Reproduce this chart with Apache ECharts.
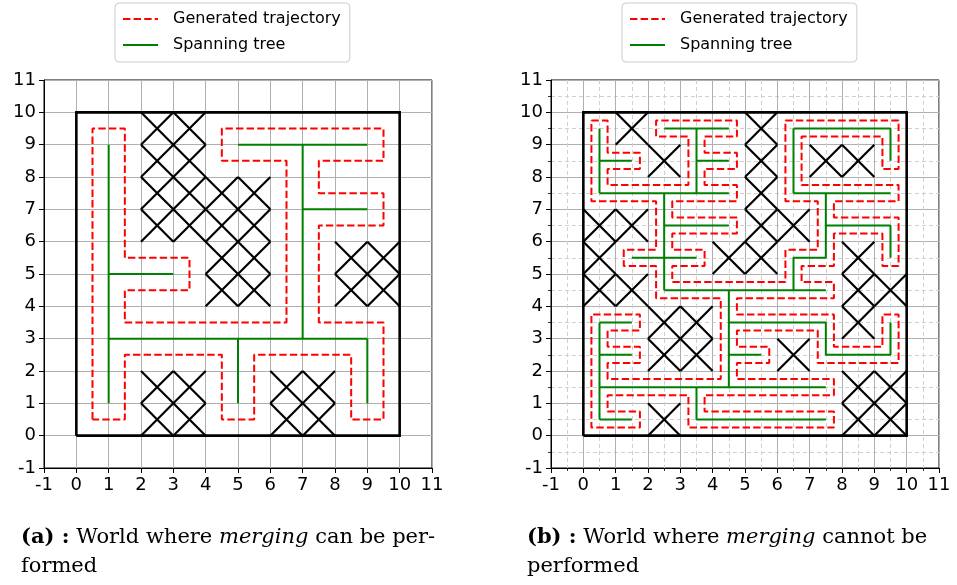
<!DOCTYPE html>
<html><head><meta charset="utf-8">
<script src="https://cdn.jsdelivr.net/npm/echarts@6/dist/echarts.min.js"></script>
<style>html,body{margin:0;padding:0;background:#fff}#c{width:957px;height:585px}</style>
</head><body><div id="c"></div>
<script>
// ---- data ----
const axisTicks = [-1,0,1,2,3,4,5,6,7,8,9,10,11];
const legendNames = ['Generated trajectory','Spanning tree'];
const boundary = [[0,0],[10,0],[10,10],[0,10],[0,0]];

// (a) world: 2x2 obstacle blocks [x, y, size]
const obstaclesA = [[2,8,2],[2,6,2],[4,6,2],[4,4,2],[8,4,2],[2,0,2],[6,0,2]];
const treeA = [
  [[1,1],[1,9]], [[1,5],[3,5]], [[1,3],[9,3]], [[5,3],[5,1]],
  [[9,3],[9,1]], [[7,3],[7,9]], [[7,7],[9,7]], [[5,9],[9,9]]
];
const trajectoryA = [
  [0.5,0.5],[0.5,9.5],[1.5,9.5],[1.5,5.5],[3.5,5.5],[3.5,4.5],[1.5,4.5],[1.5,3.5],
  [6.5,3.5],[6.5,8.5],[4.5,8.5],[4.5,9.5],[9.5,9.5],[9.5,8.5],[7.5,8.5],[7.5,7.5],
  [9.5,7.5],[9.5,6.5],[7.5,6.5],[7.5,3.5],[9.5,3.5],[9.5,0.5],[8.5,0.5],[8.5,2.5],
  [5.5,2.5],[5.5,0.5],[4.5,0.5],[4.5,2.5],[1.5,2.5],[1.5,0.5],[0.5,0.5]
];

// (b) world: 1x1 obstacle cells [x, y, size]
const obstaclesB = [
  [1,9,1],[5,9,1],
  [2,8,1],[5,8,1],[7,8,1],[8,8,1],
  [5,7,1],
  [0,6,1],[1,6,1],[5,6,1],[6,6,1],
  [0,5,1],[4,5,1],[5,5,1],[8,5,1],
  [0,4,1],[1,4,1],[8,4,1],[9,4,1],
  [2,3,1],[3,3,1],[8,3,1],
  [2,2,1],[3,2,1],[6,2,1],
  [8,1,1],[9,1,1],
  [2,0,1],[8,0,1],[9,0,1]
];
const treeB = [
  [[0.5,9.5],[0.5,7.5]],
  [[0.5,8.5],[1.5,8.5]],
  [[0.5,7.5],[4.5,7.5]],
  [[3.5,9.5],[3.5,7.5]],
  [[2.5,9.5],[4.5,9.5]],
  [[3.5,8.5],[4.5,8.5]],
  [[2.5,7.5],[2.5,4.5]],
  [[2.5,6.5],[4.5,6.5]],
  [[1.5,5.5],[3.5,5.5]],
  [[2.5,4.5],[7.5,4.5]],
  [[6.5,4.5],[6.5,5.5],[7.5,5.5],[7.5,7.5]],
  [[6.5,9.5],[6.5,7.5]],
  [[6.5,9.5],[9.5,9.5],[9.5,8.5]],
  [[6.5,7.5],[9.5,7.5]],
  [[7.5,6.5],[9.5,6.5],[9.5,5.5]],
  [[4.5,4.5],[4.5,1.5]],
  [[4.5,3.5],[7.5,3.5],[7.5,2.5],[9.5,2.5],[9.5,3.5]],
  [[4.5,2.5],[5.5,2.5]],
  [[0.5,1.5],[7.5,1.5]],
  [[0.5,3.5],[0.5,0.5]],
  [[0.5,3.5],[1.5,3.5]],
  [[0.5,2.5],[1.5,2.5]],
  [[0.5,0.5],[1.5,0.5]],
  [[3.5,1.5],[3.5,0.5],[7.5,0.5]]
];
const trajectoryB = [
  [0.25,9.75],[0.75,9.75],[0.75,8.75],[1.75,8.75],[1.75,8.25],[0.75,8.25],[0.75,7.75],
  [3.25,7.75],[3.25,9.25],[2.25,9.25],[2.25,9.75],[4.75,9.75],[4.75,9.25],[3.75,9.25],
  [3.75,8.75],[4.75,8.75],[4.75,8.25],[3.75,8.25],[3.75,7.75],[4.75,7.75],[4.75,7.25],
  [2.75,7.25],[2.75,6.75],[4.75,6.75],[4.75,6.25],[2.75,6.25],[2.75,5.75],[3.75,5.75],
  [3.75,5.25],[2.75,5.25],[2.75,4.75],[6.25,4.75],[6.25,5.75],[7.25,5.75],[7.25,7.25],
  [6.25,7.25],[6.25,9.75],[9.75,9.75],[9.75,8.25],[9.25,8.25],[9.25,9.25],[6.75,9.25],
  [6.75,7.75],[9.75,7.75],[9.75,7.25],[7.75,7.25],[7.75,6.75],[9.75,6.75],[9.75,5.25],
  [9.25,5.25],[9.25,6.25],[7.75,6.25],[7.75,5.25],[6.75,5.25],[6.75,4.75],[7.75,4.75],
  [7.75,4.25],[4.75,4.25],[4.75,3.75],[7.75,3.75],[7.75,2.75],[9.25,2.75],[9.25,3.75],
  [9.75,3.75],[9.75,2.25],[7.25,2.25],[7.25,3.25],[4.75,3.25],[4.75,2.75],[5.75,2.75],
  [5.75,2.25],[4.75,2.25],[4.75,1.75],[7.75,1.75],[7.75,1.25],[3.75,1.25],[3.75,0.75],
  [7.75,0.75],[7.75,0.25],[3.25,0.25],[3.25,1.25],[0.75,1.25],[0.75,0.75],[1.75,0.75],
  [1.75,0.25],[0.25,0.25],[0.25,3.75],[1.75,3.75],[1.75,3.25],[0.75,3.25],[0.75,2.75],
  [1.75,2.75],[1.75,2.25],[0.75,2.25],[0.75,1.75],[4.25,1.75],[4.25,4.25],[2.25,4.25],
  [2.25,5.25],[1.25,5.25],[1.25,5.75],[2.25,5.75],[2.25,7.25],[0.25,7.25],[0.25,9.75]
];

// ---- chart ----
const chart = echarts.init(document.getElementById('c'), null, {renderer:'canvas'});
const FONT = 'DejaVu Sans';

function makeAxis(gi, minor){
  const ax = {
    gridIndex: gi, type:'value', min: axisTicks[0], max: axisTicks[axisTicks.length-1], interval:1,
    axisLine:{show:true, onZero:false, lineStyle:{color:'#000', width:1}},
    axisTick:{show:true, length:5, lineStyle:{color:'#000', width:1}},
    axisLabel:{show:true, fontSize:18, color:'#000', fontFamily:FONT, margin:8,
      showMinLabel:true, showMaxLabel:true, formatter: v => String(v)},
    splitLine:{show:true, lineStyle:{color:'#b0b0b0', width:1}}
  };
  if (minor){
    ax.minorTick = {show:true, splitNumber:2, length:3, lineStyle:{color:'#000', width:0.8}};
    ax.minorSplitLine = {show:true, lineStyle:{color:'#d0d0d0', width:1, type:[4,3]}};
  }
  return ax;
}

function obstacleSeries(gi, data){
  return {
    type:'custom', xAxisIndex:gi, yAxisIndex:gi, silent:true, z:4,
    data: data, encode:{x:0, y:1},
    renderItem: function(params, api){
      const x = api.value(0), y = api.value(1), s = api.value(2);
      const ch = [];
      for (let i=0;i<s;i++) for (let j=0;j<s;j++){
        const a = api.coord([x+i, y+j]), b = api.coord([x+i+1, y+j+1]);
        const c = api.coord([x+i, y+j+1]), d = api.coord([x+i+1, y+j]);
        ch.push({type:'line', shape:{x1:a[0],y1:a[1],x2:b[0],y2:b[1]}, style:{stroke:'#000', lineWidth:2.2}});
        ch.push({type:'line', shape:{x1:c[0],y1:c[1],x2:d[0],y2:d[1]}, style:{stroke:'#000', lineWidth:2.2}});
      }
      return {type:'group', children: ch};
    }
  };
}

function worldSeries(gi, traj, tree, obst){
  const s = [];
  s.push(obstacleSeries(gi, obst));
  s.push({type:'line', name:'boundary', xAxisIndex:gi, yAxisIndex:gi, data:boundary, symbol:'none', silent:true, z:5,
    lineStyle:{color:'#000', width:2.6, join:'miter'}});
  s.push({type:'line', name:legendNames[0], xAxisIndex:gi, yAxisIndex:gi, data:traj, symbol:'none', silent:true, z:6,
    lineStyle:{color:'#ff0000', width:2, type:[7.4,3.2]}});
  tree.forEach(seg => s.push({type:'line', name:legendNames[1], xAxisIndex:gi, yAxisIndex:gi, data:seg, symbol:'none', silent:true, z:6,
    lineStyle:{color:'#008000', width:2}}));
  return s;
}

function makeLegend(left){
  return {
    left:left, top:3, orient:'vertical', data:legendNames, selectedMode:false,
    itemWidth:35, itemHeight:16, itemGap:10, padding:[8,9,9,7],
    borderColor:'#cccccc', borderWidth:1, borderRadius:4, backgroundColor:'#ffffff',
    itemStyle:{color:'rgba(0,0,0,0)', borderColor:'rgba(0,0,0,0)', borderWidth:0, opacity:0},
    textStyle:{fontSize:16, fontFamily:FONT, color:'#000', padding:[0,0,0,10], lineHeight:16}
  };
}

const capFont = 'DejaVu Serif';
const capSize = 21;
function caption(left, text){
  return {
    type:'text', left:left, top:523, silent:true,
    style:{
      text:text, fill:'#000', fontFamily:capFont, fontSize:capSize, lineHeight:29,
      rich:{
        b:{fontWeight:'bold', fontFamily:capFont, fontSize:capSize, lineHeight:29, fill:'#000'},
        i:{fontStyle:'italic', fontFamily:capFont, fontSize:capSize, lineHeight:29, fill:'#000'},
        n:{fontFamily:capFont, fontSize:capSize, lineHeight:29, fill:'#000'}
      }
    }
  };
}

const option = {
  animation:false,
  backgroundColor:'#ffffff',
  grid:[
    {left:44, top:80, width:388, height:388, show:true, borderColor:'#000', borderWidth:1, backgroundColor:'transparent'},
    {left:551, top:80, width:388, height:388, show:true, borderColor:'#000', borderWidth:1, backgroundColor:'transparent'}
  ],
  xAxis:[makeAxis(0,false), makeAxis(1,true)],
  yAxis:[makeAxis(0,false), makeAxis(1,true)],
  legend:[makeLegend(115), makeLegend(622)],
  series:[].concat(
    worldSeries(0, trajectoryA, treeA, obstaclesA),
    worldSeries(1, trajectoryB, treeB, obstaclesB)
  ),
  graphic:[
    caption(21, '{b|(a) :}{n| World where }{i|merging}{n| can be per-}\n{n|formed}'),
    caption(527, '{b|(b) :}{n| World where }{i|merging}{n| cannot be}\n{n|performed}')
  ]
};
chart.setOption(option);
</script>
</body></html>
